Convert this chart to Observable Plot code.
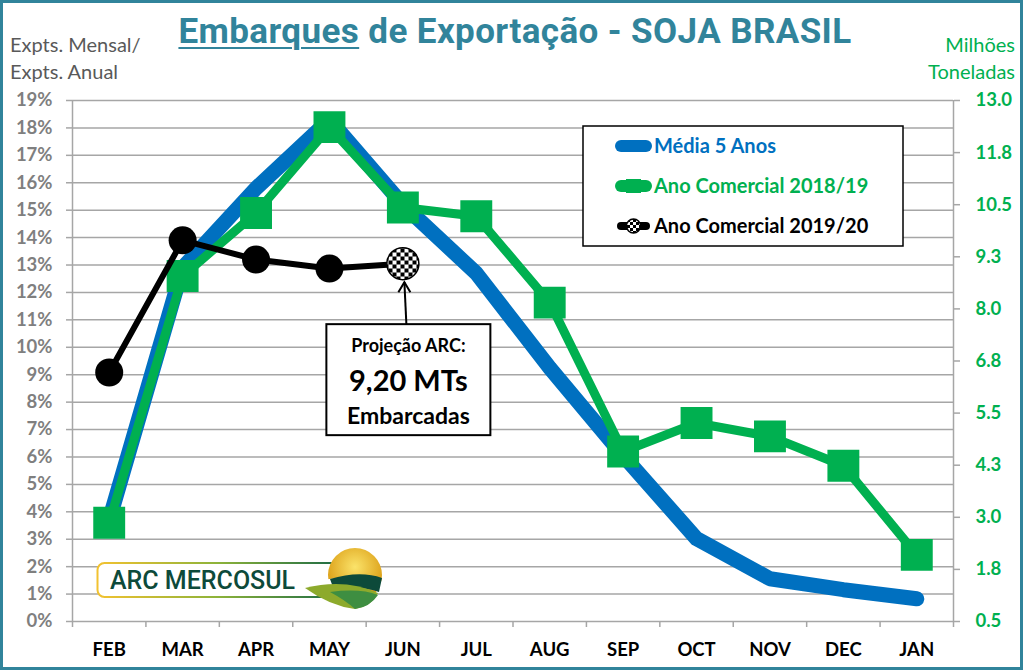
<!DOCTYPE html>
<html>
<head>
<meta charset="utf-8">
<script src="https://cdn.jsdelivr.net/npm/d3@7"></script>
<script src="https://cdn.jsdelivr.net/npm/@observablehq/plot@0.6"></script>
<style>
html,body{margin:0;padding:0;background:#fff;}
#wrap{position:relative;width:1023px;height:670px;overflow:hidden;background:#fff;font-family:Lato,"Open Sans",sans-serif;}
#plot{position:absolute;left:0;top:0;}
#frame{position:absolute;left:0;top:0;width:1017px;height:664px;border:3px solid #31849B;pointer-events:none;}
#title{position:absolute;left:0;top:11px;width:1030px;text-align:center;font-family:Roboto,sans-serif;font-weight:700;font-size:35px;color:#31849B;letter-spacing:0.4px;white-space:nowrap;}
#title u{text-decoration-thickness:2px;text-underline-offset:4px;}
.lab{position:absolute;font-size:20px;line-height:27px;white-space:nowrap;}
#overlay{position:absolute;left:0;top:0;pointer-events:none;}
</style>
</head>
<body>
<div id="wrap">
  <div id="plot"></div>
  <div id="title"><u>Embarques</u> de Exportação - SOJA BRASIL</div>
  <div class="lab" style="left:10px;top:31px;color:#595959;">Expts. Mensal/<br>Expts. Anual</div>
  <div class="lab" style="right:8px;top:31px;color:#00B050;text-align:right;">Milhões<br>Toneladas</div>
  <svg id="overlay" width="1023" height="670"></svg>
  <div id="frame"></div>
</div>
<script>
// ---- data ----
const months = ["FEB","MAR","APR","MAY","JUN","JUL","AUG","SEP","OCT","NOV","DEC","JAN"];
const media5Anos = [3.7, 12.9, 15.8, 18.3, 15.2, 12.7, 9.25, 6.05, 3.02, 1.56, 1.16, 0.83];
const anoComercial1819 = [3.6, 12.6, 14.9, 18.03, 15.1, 14.78, 11.63, 6.2, 7.24, 6.75, 5.68, 2.43];
const anoComercial1920 = [9.08, 13.9, 13.2, 12.87, 13.05];
const leftTicks = [0,1,2,3,4,5,6,7,8,9,10,11,12,13,14,15,16,17,18,19];
const rightTicks = [0.5, 1.75, 3.0, 4.25, 5.5, 6.75, 8.0, 9.25, 10.5, 11.75, 13.0];
const rightMin = 0.5, rightMax = 13.0, leftMax = 19;
const seriesNames = ["Média 5 Anos", "Ano Comercial 2018/19", "Ano Comercial 2019/20"];
const projText = ["Projeção ARC:", "9,20 MTs", "Embarcadas"];

const BLUE = "#0070C0", GREEN = "#00B050", GRID = "#A6A6A6";

const toRows = vals => vals.map((v, i) => ({i, m: months[i], v}));
const blueRows = toRows(media5Anos);
const greenRows = toRows(anoComercial1819);
const blackRows = toRows(anoComercial1920);
const lastBlack = blackRows.slice(-1);
const firstBlack = blackRows.slice(0, -1);
const monthIdx = months.map((m, i) => i);
const bounds = months.map((m, i) => i - 0.5).concat([months.length - 0.5]);
const rightToLeft = v => (v - rightMin) / (rightMax - rightMin) * leftMax;

const chart = Plot.plot({
  width: 1023, height: 670,
  marginLeft: 72, marginRight: 70, marginTop: 100, marginBottom: 49,
  x: {type: "linear", domain: [-0.5, months.length - 0.5]},
  y: {domain: [0, leftMax]},
  style: {fontFamily: "Lato, sans-serif", background: "white", overflow: "visible"},
  marks: [
    Plot.gridY(leftTicks.filter(t => t > 0), {stroke: GRID, strokeOpacity: 1, strokeWidth: 1.5}),
    Plot.ruleX([-0.5, months.length - 0.5], {stroke: GRID, strokeWidth: 1.5}),
    Plot.ruleY([0], {stroke: GRID, strokeWidth: 1.5}),
    // left axis
    Plot.axisY({ticks: leftTicks, tickFormat: () => "", tickSize: 6, stroke: GRID, strokeWidth: 1.5, label: null}),
    Plot.axisY({ticks: leftTicks, tickFormat: d => d + "%", tickSize: 0, tickPadding: 20, fontSize: 18.5, fontWeight: "bold", fill: "#7F7F7F", label: null}),
    // right axis
    Plot.axisY({anchor: "right", ticks: rightTicks.map(rightToLeft), tickFormat: () => "", tickSize: 6, stroke: GRID, strokeWidth: 1.5, label: null}),
    Plot.axisY({anchor: "right", ticks: rightTicks.map(rightToLeft),
      tickFormat: d => (Math.round((d / leftMax * (rightMax - rightMin) + rightMin) * 1000) / 1000).toFixed(1),
      tickSize: 0, tickPadding: 22, fontSize: 18.5, fontWeight: "bold", fill: GREEN, label: null}),
    // x axis
    Plot.axisX({ticks: bounds, tickFormat: () => "", tickSize: 6, stroke: GRID, strokeWidth: 1.5, label: null}),
    Plot.axisX({ticks: monthIdx, tickFormat: i => months[i], tickSize: 0, tickPadding: 21, fontSize: 18.5, fontWeight: "bold", fill: "#000", label: null}),
    // series
    Plot.line(blueRows, {x: "i", y: "v", stroke: BLUE, strokeWidth: 15, strokeLinecap: "round", strokeLinejoin: "round"}),
    Plot.line(greenRows, {x: "i", y: "v", stroke: GREEN, strokeWidth: 9, strokeLinejoin: "round"}),
    Plot.dot(greenRows, {x: "i", y: "v", symbol: "square", r: 18, fill: GREEN}),
    Plot.line(blackRows, {x: "i", y: "v", stroke: "#000", strokeWidth: 6, strokeLinejoin: "round"}),
    Plot.dot(firstBlack, {x: "i", y: "v", r: 14, fill: "#000"}),
    Plot.dot(lastBlack, {x: "i", y: "v", r: 16, fill: "url(#chk)", stroke: "#000", strokeWidth: 1.5})
  ]
});
document.getElementById("plot").appendChild(chart);

const NS = "http://www.w3.org/2000/svg";
// checker pattern
const defs = document.createElementNS(NS, "defs");
defs.innerHTML = `<pattern id="chk" width="8" height="8" patternUnits="userSpaceOnUse">
  <rect width="8" height="8" fill="#fff"/><rect width="4" height="4" fill="#000"/><rect x="4" y="4" width="4" height="4" fill="#000"/></pattern>
  <pattern id="chk2" width="6" height="6" patternUnits="userSpaceOnUse">
  <rect width="6" height="6" fill="#fff"/><rect width="3" height="3" fill="#000"/><rect x="3" y="3" width="3" height="3" fill="#000"/></pattern>
  <linearGradient id="lgb" x1="0" x2="1" y1="0" y2="0"><stop offset="0" stop-color="#F2C230"/><stop offset="0.5" stop-color="#8DB33A"/><stop offset="1" stop-color="#1D6B45"/></linearGradient>
  <radialGradient id="sun" cx="0.5" cy="0.35" r="0.6"><stop offset="0" stop-color="#FBE36A"/><stop offset="1" stop-color="#D99A10"/></radialGradient>`;
chart.insertBefore(defs, chart.firstChild);

// overlay: annotation, legend, logo
const xs = chart.scale("x"), ys = chart.scale("y");
const ov = document.getElementById("overlay");
const px = xs.apply(4), py = ys.apply(anoComercial1920[4]);
const bx = px - 76, by = py + 61, bw = 164, bh = 111;
let s = "";
// arrow
s += `<line x1="${px+4}" y1="${by}" x2="${px+2}" y2="${py+19}" stroke="#000" stroke-width="2"/>`;
s += `<polyline points="${px-4},${py+29} ${px+2},${py+19} ${px+8},${py+29}" fill="none" stroke="#000" stroke-width="2"/>`;
// box
s += `<rect x="${bx}" y="${by}" width="${bw}" height="${bh}" fill="#fff" stroke="#000" stroke-width="2"/>`;
s += `<text x="${bx+bw/2}" y="${by+28}" text-anchor="middle" font-family="Lato" font-weight="700" font-size="18">${projText[0]}</text>`;
s += `<text x="${bx+bw/2}" y="${by+67}" text-anchor="middle" font-family="Lato" font-weight="700" font-size="29">${projText[1]}</text>`;
s += `<text x="${bx+bw/2}" y="${by+100}" text-anchor="middle" font-family="Lato" font-weight="700" font-size="23">${projText[2]}</text>`;
// legend
const lx = 583, ly = 126;
s += `<rect x="${lx}" y="${ly}" width="320" height="120" fill="#fff" stroke="#000" stroke-width="1.5"/>`;
const legCols = [BLUE, GREEN, "#000"];
seriesNames.forEach((n, k) => {
  const yy = ly + 20 + k * 40;
  const sw = k === 2 ? 8 : 12;
  s += `<line x1="${lx+38}" x2="${lx+63}" y1="${yy}" y2="${yy}" stroke="${legCols[k]}" stroke-width="${sw}" stroke-linecap="round"/>`;
  if (k === 1) s += `<rect x="${lx+43}" y="${yy-7}" width="15" height="14" fill="${GREEN}"/>`;
  if (k === 2) s += `<circle cx="${lx+50.5}" cy="${yy}" r="7" fill="url(#chk2)" stroke="#000" stroke-width="1.5"/>`;
  s += `<text x="${lx+71}" y="${yy+7}" font-family="Lato" font-weight="700" font-size="20" fill="${legCols[k]}">${n}</text>`;
});
// logo
s += `<rect x="97.5" y="563" width="240" height="34" rx="7" fill="#fff" stroke="url(#lgb)" stroke-width="2"/>`;
s += `<text x="110" y="589" font-family="Roboto" font-weight="500" font-size="25" fill="#0D4A3A">ARC MERCOSUL</text>`;
s += `<circle cx="355" cy="575" r="27" fill="url(#sun)"/>`;
s += `<path d="M305,585 Q340,572 382,582 L380,592 Q345,580 310,592 Z" fill="#fff"/>`;
s += `<path d="M330,579 Q360,570 382,578 L379,592 Q355,584 334,590 Z" fill="#0D4A3A"/>`;
s += `<path d="M305,588 Q345,578 378,593 Q372,606 355,609 Q330,606 305,588 Z" fill="#8DAA2C"/>`;
s += `<path d="M330,592 Q360,588 378,595 Q370,607 355,609 Q345,600 330,592 Z" fill="#3E8E41"/>`;
ov.innerHTML = s;
ov.insertBefore(defs.cloneNode(true), ov.firstChild);
</script>
</body>
</html>
